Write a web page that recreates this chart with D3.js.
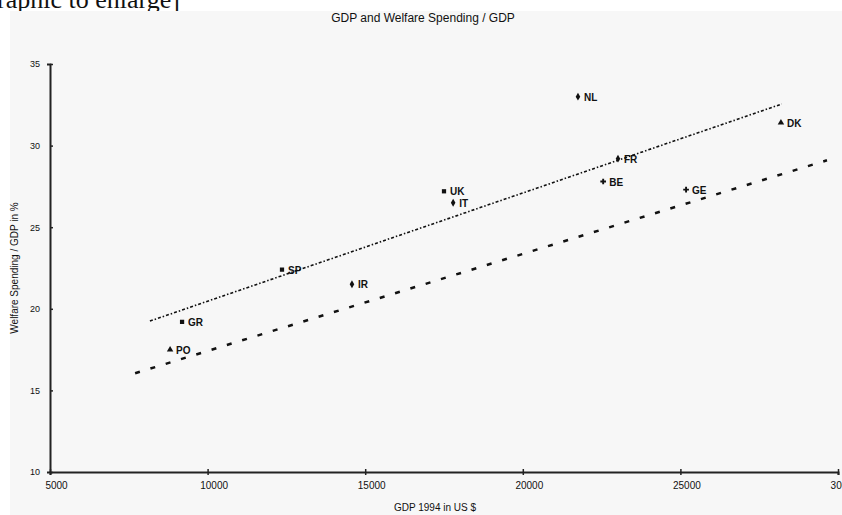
<!DOCTYPE html>
<html>
<head>
<meta charset="utf-8">
<script src="https://cdn.jsdelivr.net/npm/d3@7"></script>
<style>
  body { margin: 0; background: #fff; }
  svg { display: block; }
  .lbl { font-family: "Liberation Sans", Arial, sans-serif; font-size: 10px; fill: #111; }
</style>
</head>
<body>
<svg id="chart" width="842" height="515"></svg>
<script>
// countries and values
var countries = ["PO", "GR", "SP", "IR", "UK", "IT", "NL", "FR", "BE", "GE", "DK"];
var gdp = [8810, 9190, 12360, 14580, 17500, 17790, 21750, 23020, 22550, 25180, 28190];
var welfare = [17.5, 19.2, 22.4, 21.5, 27.2, 26.5, 33.0, 29.2, 27.8, 27.3, 31.4];
var shapes = ["triangle", "square", "square", "diamond", "square", "diamond", "diamond", "diamond", "cross", "cross", "triangle"];

var xTicks = [5000, 10000, 15000, 20000, 25000, 30000];
var xTickLabels = ["5000", "10000", "15000", "20000", "25000", "30000"];
var yTicks = [10, 15, 20, 25, 30, 35];

// trend lines (start / end in data units)
var upperTrendX = [8170, 28220];
var upperTrendY = [19.25, 32.55];
var lowerTrendX = [7700, 29650];
var lowerTrendY = [16.05, 29.1];

var svg = d3.select("#chart");

// page text above the picture (cut by the top edge, as in the screenshot)
svg.append("text").attr("x", -3).attr("y", 8)
    .style("font-family", "'Liberation Serif', 'Times New Roman', serif")
    .style("font-size", "26px").style("fill", "#111")
    .text("raphic to enlarge]");

svg.append("rect").attr("x", 10).attr("y", 11).attr("width", 832).attr("height", 504).attr("fill", "#f7f7f7");

var x = d3.scaleLinear().domain([5000, 30000]).range([50, 838]);
var y = d3.scaleLinear().domain([10, 35]).range([472, 64]);

svg.append("text").attr("class", "lbl").attr("x", 423).attr("y", 22)
    .attr("text-anchor", "middle").style("font-size", "12px")
    .text("GDP and Welfare Spending / GDP");

// axes
var xAxis = d3.axisBottom(x).tickValues(xTicks).tickSize(3)
    .tickFormat(function(d, i) { return xTickLabels[i]; });
var gx = svg.append("g").attr("transform", "translate(0," + y(10) + ")").call(xAxis);
gx.select(".domain").attr("stroke", "#222").attr("stroke-width", 2);
gx.selectAll(".tick line").attr("stroke", "#222").attr("y1", -3).attr("stroke-width", 1.5);
gx.selectAll(".tick text").attr("class", "lbl").attr("dy", "1.1em").attr("dx", 6);

var yAxis = d3.axisLeft(y).tickValues(yTicks).tickSize(3);
var gy = svg.append("g").attr("transform", "translate(" + x(5000) + ",0)").call(yAxis);
gy.select(".domain").attr("stroke", "#222").attr("stroke-width", 2);
gy.selectAll(".tick line").attr("stroke", "#222").attr("x2", 3).attr("stroke-width", 1.5);
gy.selectAll(".tick text").attr("class", "lbl").attr("x", -10).style("font-size", "9px");

svg.append("text").attr("class", "lbl").attr("x", 435).attr("y", 511)
    .attr("text-anchor", "middle").text("GDP 1994 in US $");
svg.append("text").attr("class", "lbl")
    .attr("transform", "translate(18," + y(22.5) + ") rotate(-90)")
    .attr("text-anchor", "middle").text("Welfare Spending / GDP in %");

// trend lines
var line = d3.line().x(function(d) { return x(d[0]); }).y(function(d) { return y(d[1]); });
svg.append("path").datum(d3.zip(upperTrendX, upperTrendY)).attr("d", line)
    .attr("fill", "none").attr("stroke", "#111").attr("stroke-width", 1.6)
    .attr("stroke-dasharray", "3,2,1.5,2");
svg.append("path").datum(d3.zip(lowerTrendX, lowerTrendY)).attr("d", line)
    .attr("fill", "none").attr("stroke", "#111").attr("stroke-width", 2.5)
    .attr("stroke-dasharray", "5,11");

// points
var symbolFor = {
    triangle: d3.symbolTriangle, square: d3.symbolSquare,
    diamond: d3.symbolDiamond, cross: d3.symbolCross
};
var pts = svg.append("g").selectAll("g").data(countries).join("g")
    .attr("transform", function(d, i) { return "translate(" + x(gdp[i]) + "," + y(welfare[i]) + ")"; });
pts.append("path")
    .attr("d", function(d, i) { return d3.symbol().type(symbolFor[shapes[i]]).size(18)(); })
    .attr("fill", "#111");
pts.append("text").attr("class", "lbl").attr("x", 6).attr("y", 4)
    .style("font-weight", "bold").text(function(d) { return d; });
</script>
</body>
</html>
